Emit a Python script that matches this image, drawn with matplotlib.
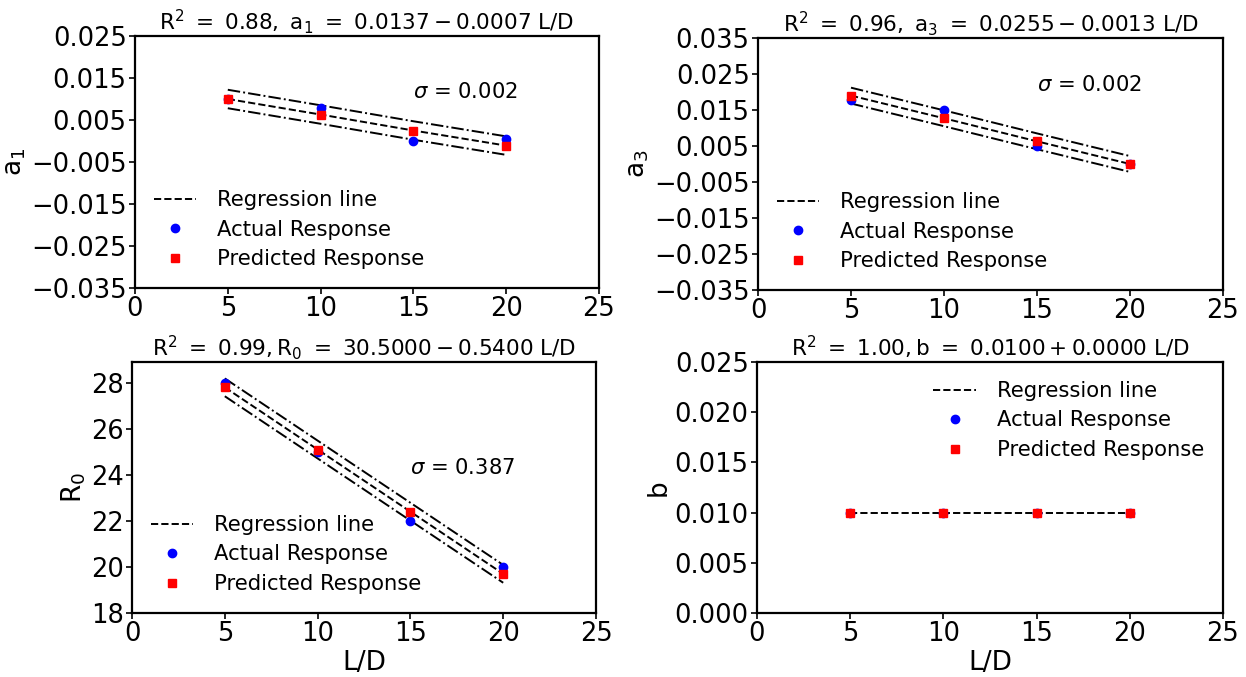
import matplotlib
matplotlib.use('Agg')
import matplotlib.pyplot as plt
import numpy as np

# L/D values shared by every panel
ld = [5, 10, 15, 20]

# a1
a1Actual = [0.0100, 0.0078, 0.0000, 0.0004]
a1Pred = [0.0100, 0.0063, 0.0025, -0.0011]
a1Sigma = 0.0022

# a3
a3Actual = [0.0179, 0.0151, 0.0049, 0.0001]
a3Pred = [0.0190, 0.0127, 0.0063, 0.0000]
a3Sigma = 0.0022

# R0
r0Actual = [28.0, 25.0, 22.0, 20.0]
r0Pred = [27.8, 25.1, 22.4, 19.7]
r0Sigma = 0.387

# b
bActual = [0.010, 0.010, 0.010, 0.010]
bPred = [0.010, 0.010, 0.010, 0.010]

titles = [r'$\mathrm{R^2\ =\ 0.88,\ a_1\ =\ 0.0137 - 0.0007\ L/D}$',
          r'$\mathrm{R^2\ =\ 0.96,\ a_3\ =\ 0.0255 - 0.0013\ L/D}$',
          r'$\mathrm{R^2\ =\ 0.99, R_0\ =\ 30.5000 - 0.5400\ L/D}$',
          r'$\mathrm{R^2\ =\ 1.00, b\ =\ 0.0100 + 0.0000\ L/D}$']
ylabels = [r'$\mathrm{a_1}$', r'$\mathrm{a_3}$', r'$\mathrm{R_0}$', 'b']
sigmaLabels = ['0.002', '0.002', '0.387']

fig = plt.figure(figsize=(12.46, 6.77), dpi=100)
W, H = 1246.0, 677.0


def box(l, t, r, b):
    return [l / W, 1 - b / H, (r - l) / W, (b - t) / H]


def fmt3(v, pos):
    return ('%.3f' % v).replace('-', '\u2212')


ax1 = fig.add_axes(box(135, 36, 599, 288))
ax2 = fig.add_axes(box(758, 38, 1223, 290))
ax3 = fig.add_axes(box(132, 362, 596, 613))
ax4 = fig.add_axes(box(757, 362, 1223, 613))
axes = [ax1, ax2, ax3, ax4]

panels = [(a1Actual, a1Pred, a1Sigma), (a3Actual, a3Pred, a3Sigma),
          (r0Actual, r0Pred, r0Sigma), (bActual, bPred, None)]

for i, ax in enumerate(axes):
    actual, pred, sigma = panels[i]
    x = np.array(ld)
    p = np.array(pred)
    ax.plot(x, p, '--', color='black', lw=1.4, label='Regression line', zorder=2)
    if sigma is not None:
        ax.plot(x, p + sigma, '-.', color='black', lw=1.4, zorder=2)
        ax.plot(x, p - sigma, '-.', color='black', lw=1.4, zorder=2)
    ax.plot(x, actual, 'o', color='blue', ms=6, label='Actual Response', zorder=3)
    ax.plot(x, pred, 's', color='red', ms=6, label='Predicted Response', zorder=4)
    ax.set_title(titles[i], fontsize=15.5, pad=4)
    ax.set_ylabel(ylabels[i], fontsize=19, labelpad=2)
    ax.set_xlim(0, 25)
    ax.set_xticks([0, 5, 10, 15, 20, 25])
    ax.tick_params(labelsize=18.5, width=1.2, length=4, pad=2)
    for s in ax.spines.values():
        s.set_linewidth(1.6)

ax1.set_ylim(-0.035, 0.025)
ax1.set_yticks(np.arange(-0.035, 0.0251, 0.01))
ax1.yaxis.set_major_formatter(matplotlib.ticker.FuncFormatter(fmt3))
ax2.set_ylim(-0.035, 0.035)
ax2.set_yticks(np.arange(-0.035, 0.0351, 0.01))
ax2.yaxis.set_major_formatter(matplotlib.ticker.FuncFormatter(fmt3))
ax3.set_ylim(18, 28.9)
ax3.set_yticks([18, 20, 22, 24, 26, 28])
ax4.set_ylim(0, 0.025)
ax4.set_yticks(np.arange(0, 0.0251, 0.005))
ax4.yaxis.set_major_formatter(matplotlib.ticker.FuncFormatter(fmt3))

ax3.set_xlabel('L/D', fontsize=19, labelpad=2)
ax4.set_xlabel('L/D', fontsize=19, labelpad=2)

# sigma annotations
ax1.text(15, 0.0117, r'$\sigma$ = ' + sigmaLabels[0], fontsize=15.2, va='center')
ax2.text(15, 0.022, r'$\sigma$ = ' + sigmaLabels[1], fontsize=15.2, va='center')
ax3.text(15, 24.3, r'$\sigma$ = ' + sigmaLabels[2], fontsize=15.2, va='center')

legKw = dict(frameon=False, fontsize=15.2, numpoints=1, handlelength=2.0,
             handletextpad=1.0, labelspacing=0.45)
ax1.legend(loc='lower left', bbox_to_anchor=(0.0, 0.0), **legKw)
ax2.legend(loc='lower left', bbox_to_anchor=(0.0, 0.0), **legKw)
ax3.legend(loc='lower left', bbox_to_anchor=(0.0, 0.0), **legKw)
ax4.legend(loc='upper right', bbox_to_anchor=(1.0, 1.0), **legKw)

fig.savefig('out.png', dpi=100)
